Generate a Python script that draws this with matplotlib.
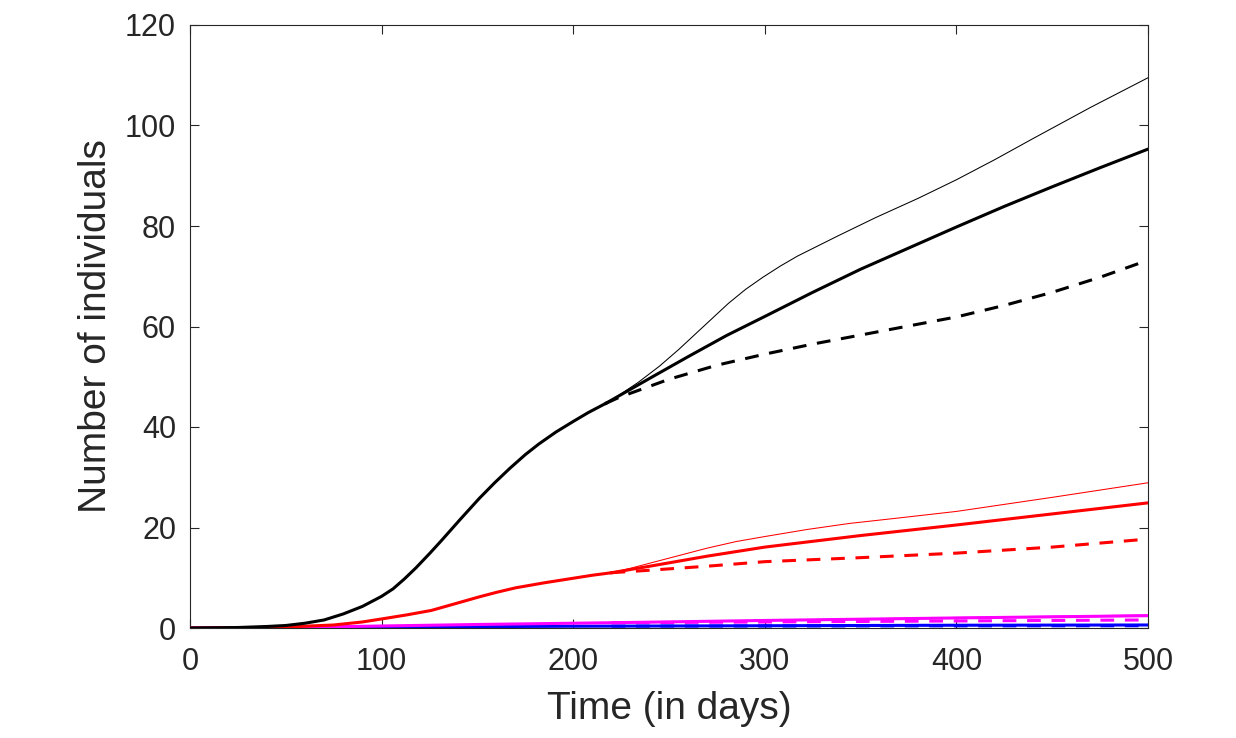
import matplotlib
matplotlib.use("Agg")
import matplotlib.pyplot as plt

# ---- data ----
t_base = [0, 25, 40, 50, 60, 70, 80, 90, 100, 106, 112, 118, 125, 131, 141, 151, 159, 167,
          175, 182, 191, 200, 208, 217]
black_base = [0, 0.1, 0.3, 0.5, 0.95, 1.6, 2.8, 4.3, 6.3, 7.8, 9.8, 12.0, 14.8, 17.3, 21.6,
              25.8, 28.9, 31.8, 34.5, 36.6, 39.0, 41.1, 42.9, 44.7]

t_blk_thick = [217, 240, 260, 280, 300, 325, 350, 375, 400, 425, 450, 475, 500]
blk_thick = [44.7, 49.7, 54.0, 58.2, 62.0, 66.8, 71.4, 75.6, 79.8, 83.9, 87.8, 91.6, 95.3]
t_blk_thin = [217, 225, 234, 245, 255, 268, 281, 290, 299, 308, 317, 338, 358, 380, 400,
              420, 440, 470, 500]
blk_thin = [44.7, 46.6, 48.9, 52.1, 55.4, 60.0, 64.6, 67.4, 69.8, 72.0, 74.0, 78.0, 81.7,
            85.5, 89.2, 93.2, 97.4, 103.6, 109.5]
t_blk_dash = [217, 224, 250, 275, 300, 325, 350, 375, 400, 425, 450, 475, 500]
blk_dash = [44.7, 45.9, 49.5, 52.3, 54.5, 56.5, 58.3, 60.1, 61.9, 64.2, 66.8, 69.8, 73.2]

t_red_base = [0, 25, 50, 75, 90, 100, 113, 126, 139, 151, 160, 170, 185, 200, 210, 220]
red_base = [0, 0.02, 0.2, 0.6, 1.2, 1.8, 2.6, 3.5, 4.9, 6.2, 7.1, 8.0, 9.0, 9.9, 10.5, 11.0]
t_red_thick = [220, 240, 270, 300, 350, 400, 450, 500]
red_thick = [11.0, 12.3, 14.3, 16.1, 18.4, 20.5, 22.7, 24.9]
t_red_thin = [220, 230, 240, 255, 270, 285, 300, 322, 344, 370, 400, 450, 500]
red_thin = [11.0, 11.9, 12.9, 14.4, 15.9, 17.2, 18.2, 19.6, 20.8, 21.9, 23.2, 26.0, 28.9]
t_red_dash = [220, 240, 270, 300, 350, 400, 450, 500]
red_dash = [11.0, 11.5, 12.3, 13.2, 14.0, 14.9, 16.1, 17.7]

t_mag = [0, 50, 100, 150, 220, 300, 400, 500]
mag_thick = [0, 0.1, 0.4, 0.7, 1.05, 1.5, 2.0, 2.45]
mag_thin = [0, 0.1, 0.4, 0.7, 1.05, 1.55, 2.1, 2.6]
t_mag_dash = [220, 300, 400, 500]
mag_dash = [1.05, 1.2, 1.4, 1.6]

t_blue = [0, 50, 100, 200, 300, 400, 500]
blue_thick = [0, 0.1, 0.2, 0.35, 0.45, 0.55, 0.6]
t_blue_dash = [220, 300, 400, 500]
blue_dash = [0.37, 0.4, 0.43, 0.45]

xticks = [0, 100, 200, 300, 400, 500]
yticks = [0, 20, 40, 60, 80, 100, 120]

# ---- styling ----
plt.rcParams['font.family'] = ['Liberation Sans', 'DejaVu Sans']
TXT = '#262626'
LW_THICK = 2.2
LW_THIN = 0.75
DASH = (4.5, 3.5)

fig = plt.figure(figsize=(12.36, 7.38), dpi=100)
ax = fig.add_axes([190/1236, 1 - 628/738, (1148-190)/1236, (628-25)/738])

def line(t, v, color, kind, z):
    if kind == 'thick':
        ax.plot(t, v, color=color, lw=LW_THICK, zorder=z, solid_joinstyle='round')
    elif kind == 'thin':
        ax.plot(t, v, color=color, lw=LW_THIN, zorder=z)
    else:
        ax.plot(t, v, color=color, lw=LW_THICK, zorder=z, linestyle=(0, DASH))

BLUE = '#0000ff'
MAG = '#ff00ff'
RED = '#ff0000'
BLK = '#000000'

# blue
line(t_blue, blue_thick, BLUE, 'thick', 2)
line(t_blue_dash, blue_dash, BLUE, 'dash', 2)
# magenta
line(t_mag, mag_thick, MAG, 'thick', 3)
line(t_mag, mag_thin, MAG, 'thin', 3)
line(t_mag_dash, mag_dash, MAG, 'dash', 3)
# red
line(t_red_base, red_base, RED, 'thick', 4)
line(t_red_thick, red_thick, RED, 'thick', 4)
line(t_red_thin, red_thin, RED, 'thin', 4)
line(t_red_dash, red_dash, RED, 'dash', 4)
# black
line(t_base, black_base, BLK, 'thick', 5)
line(t_blk_thick, blk_thick, BLK, 'thick', 5)
line(t_blk_thin, blk_thin, BLK, 'thin', 5)
line(t_blk_dash, blk_dash, BLK, 'dash', 5)

ax.set_xlim(0, 500)
ax.set_ylim(0, 120)
ax.set_xticks(xticks)
ax.set_yticks(yticks)
ax.set_xticklabels([str(v) for v in xticks])
ax.set_yticklabels([str(v) for v in yticks])

for s in ax.spines.values():
    s.set_color(TXT)
    s.set_linewidth(0.8)
ax.tick_params(direction='in', length=6.5, width=0.8, color=TXT,
               labelsize=22, labelcolor=TXT, top=True, right=True)
ax.tick_params(axis='x', pad=14)
ax.tick_params(axis='y', pad=10)

ax.set_xlabel('Time (in days)', fontsize=28, color=TXT, labelpad=10)
ax.set_ylabel('Number of individuals', fontsize=28, color=TXT, labelpad=8)

fig.savefig('out.png', dpi=100, facecolor='white')
